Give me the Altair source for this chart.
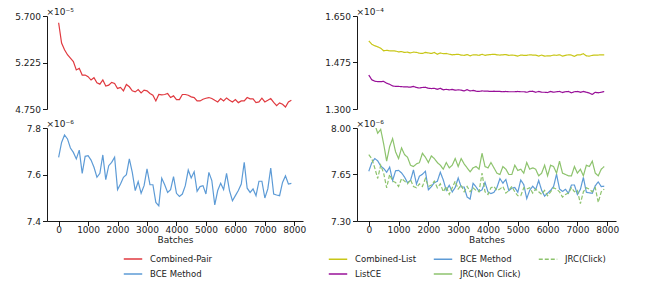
import altair as alt
import pandas as pd

batches = list(range(0, 8000, 100))

combined_pair = [
    5.631, 5.424, 5.356, 5.304, 5.270, 5.235, 5.149, 5.166, 5.097, 5.097,
    5.080, 5.046, 5.070, 5.018, 5.004, 5.046, 4.984, 4.994, 5.022, 5.011,
    4.960, 4.970, 4.936, 5.001, 4.977, 4.936, 4.925, 4.949, 4.915, 4.943,
    4.936, 4.908, 4.891, 4.832, 4.898, 4.894, 4.898, 4.908, 4.867, 4.884,
    4.846, 4.846, 4.898, 4.898, 4.891, 4.874, 4.867, 4.832, 4.832, 4.850,
    4.860, 4.867, 4.857, 4.839, 4.822, 4.857, 4.832, 4.863, 4.839, 4.822,
    4.846, 4.815, 4.832, 4.832, 4.867, 4.853, 4.853, 4.815, 4.822, 4.860,
    4.822, 4.839, 4.857, 4.818, 4.784, 4.812, 4.798, 4.770, 4.822, 4.839,
]

bce_method = [
    7.674, 7.738, 7.770, 7.753, 7.714, 7.695, 7.667, 7.705, 7.605, 7.678,
    7.681, 7.662, 7.631, 7.588, 7.605, 7.684, 7.578, 7.638, 7.652, 7.674,
    7.535, 7.559, 7.588, 7.599, 7.667, 7.609, 7.531, 7.569, 7.519, 7.552,
    7.624, 7.556, 7.556, 7.480, 7.465, 7.584, 7.556, 7.523, 7.535, 7.591,
    7.519, 7.506, 7.516, 7.552, 7.619, 7.585, 7.612, 7.528, 7.548, 7.552,
    7.516, 7.609, 7.574, 7.469, 7.531, 7.562, 7.535, 7.605, 7.531, 7.487,
    7.509, 7.531, 7.559, 7.652, 7.541, 7.523, 7.538, 7.509, 7.571, 7.571,
    7.499, 7.538, 7.628, 7.516, 7.512, 7.509, 7.566, 7.594, 7.559, 7.562,
]

combined_list = [
    1.556, 1.544, 1.538, 1.534, 1.529, 1.519, 1.521, 1.519, 1.519, 1.518,
    1.515, 1.516, 1.513, 1.514, 1.511, 1.514, 1.513, 1.510, 1.509, 1.513,
    1.511, 1.509, 1.513, 1.506, 1.511, 1.508, 1.509, 1.506, 1.504, 1.505,
    1.506, 1.503, 1.502, 1.505, 1.500, 1.504, 1.504, 1.502, 1.506, 1.502,
    1.504, 1.505, 1.506, 1.504, 1.503, 1.504, 1.505, 1.502, 1.503, 1.502,
    1.499, 1.503, 1.502, 1.502, 1.504, 1.503, 1.503, 1.499, 1.503, 1.499,
    1.500, 1.500, 1.503, 1.502, 1.504, 1.499, 1.502, 1.504, 1.503, 1.498,
    1.504, 1.504, 1.508, 1.500, 1.499, 1.502, 1.503, 1.503, 1.504, 1.504,
]

list_ce = [
    1.428, 1.410, 1.405, 1.403, 1.403, 1.404, 1.397, 1.393, 1.387, 1.385,
    1.385, 1.384, 1.383, 1.383, 1.382, 1.385, 1.381, 1.379, 1.381, 1.382,
    1.378, 1.377, 1.378, 1.374, 1.378, 1.372, 1.374, 1.372, 1.374, 1.371,
    1.372, 1.371, 1.368, 1.373, 1.368, 1.370, 1.367, 1.366, 1.368, 1.367,
    1.367, 1.366, 1.367, 1.366, 1.366, 1.365, 1.366, 1.365, 1.365, 1.365,
    1.366, 1.365, 1.365, 1.363, 1.366, 1.367, 1.363, 1.366, 1.363, 1.363,
    1.362, 1.366, 1.363, 1.365, 1.366, 1.362, 1.365, 1.366, 1.361, 1.365,
    1.366, 1.363, 1.366, 1.363, 1.360, 1.355, 1.363, 1.361, 1.363, 1.366,
]

jrc_non_click = [
    8.12, 8.09, 8.03, 7.96, 7.99, 7.88, 7.75, 7.86, 7.92, 7.82,
    7.77, 7.85, 7.80, 7.78, 7.72, 7.71, 7.73, 7.74, 7.81, 7.78,
    7.74, 7.79, 7.77, 7.74, 7.72, 7.69, 7.74, 7.70, 7.72, 7.77,
    7.71, 7.77, 7.73, 7.70, 7.67, 7.70, 7.71, 7.69, 7.81, 7.71,
    7.70, 7.74, 7.70, 7.66, 7.65, 7.71, 7.69, 7.65, 7.65, 7.72,
    7.68, 7.69, 7.66, 7.74, 7.69, 7.70, 7.69, 7.64, 7.66, 7.72,
    7.64, 7.72, 7.71, 7.66, 7.75, 7.66, 7.65, 7.64, 7.64, 7.71,
    7.66, 7.69, 7.64, 7.72, 7.71, 7.75, 7.66, 7.64, 7.69, 7.71,
]

jrc_click = [
    7.80, 7.77, 7.70, 7.62, 7.72, 7.66, 7.55, 7.65, 7.60, 7.59,
    7.56, 7.62, 7.60, 7.58, 7.61, 7.56, 7.55, 7.58, 7.56, 7.62,
    7.56, 7.57, 7.60, 7.55, 7.58, 7.52, 7.56, 7.50, 7.55, 7.60,
    7.54, 7.57, 7.52, 7.56, 7.52, 7.55, 7.53, 7.52, 7.66, 7.52,
    7.50, 7.55, 7.56, 7.53, 7.54, 7.56, 7.51, 7.53, 7.56, 7.52,
    7.49, 7.49, 7.55, 7.54, 7.55, 7.51, 7.54, 7.52, 7.50, 7.53,
    7.49, 7.52, 7.55, 7.54, 7.52, 7.48, 7.50, 7.51, 7.55, 7.52,
    7.53, 7.43, 7.52, 7.55, 7.54, 7.52, 7.55, 7.44, 7.52, 7.54,
]

x_ticks = [0, 1000, 2000, 3000, 4000, 5000, 6000, 7000, 8000]

RED = "#e0393f"
BLUE = "#5d9bd6"
YELLOW = "#c8c617"
PURPLE = "#980f98"
GREEN = "#8dc36d"

FONT = "DejaVu Sans"


def frame(series):
    rows = []
    for name, vals in series:
        for b, v in zip(batches, vals):
            rows.append({"batch": b, "value": v, "series": name})
    return pd.DataFrame(rows)


XS = alt.Scale(domain=[-395, 8295], nice=False, zero=False)


def x_enc(show):
    if show:
        return alt.X("batch:Q", scale=XS,
                     axis=alt.Axis(values=x_ticks, title="Batches", format="d",
                                   labelFlush=False, labelOverlap=False,
                                   labelPadding=0, titlePadding=1))
    return alt.X("batch:Q", scale=XS, axis=None)


def y_enc(domain, ticks, fmt, exp):
    return alt.Y("value:Q",
                 scale=alt.Scale(domain=domain, nice=False, zero=False),
                 axis=alt.Axis(values=ticks, format=fmt, title="×10" + exp,
                               titleAngle=0, titleAlign="left",
                               titleBaseline="alphabetic", titleX=-1, titleY=-1.5,
                               titleFontSize=9))


LEG = dict(title=None, orient="none", symbolType="stroke", symbolSize=340,
           symbolStrokeWidth=1.5, labelFont=FONT, labelFontSize=8.5, labelOffset=7,
           rowPadding=-1, padding=0, labelColor="#222")

# ---------- left column ----------
left_dom = ["Combined-Pair", "BCE Method"]
left_rng = [RED, BLUE]
left_legend = alt.Legend(legendX=76, legendY=233, **LEG)


def lcolor():
    return alt.Color("series:N", scale=alt.Scale(domain=left_dom, range=left_rng),
                     legend=left_legend)


lt = alt.Chart(frame([("Combined-Pair", combined_pair)])).mark_line(
    strokeWidth=1.2, clip=True).encode(
    x=x_enc(False),
    y=y_enc([4.75, 5.70], [4.75, 5.225, 5.70], ".3f", "⁻⁵"),
    color=lcolor(),
).properties(width=256, height=93)

lb = alt.Chart(frame([("BCE Method", bce_method)])).mark_line(
    strokeWidth=1.2, clip=True).encode(
    x=x_enc(True),
    y=y_enc([7.4, 7.8], [7.4, 7.6, 7.8], ".1f", "⁻⁶"),
    color=lcolor(),
).properties(width=256, height=93)

left_col = alt.vconcat(lt, lb, spacing=19, bounds="flush")

# ---------- right column ----------
right_dom = ["Combined-List", "ListCE", "BCE Method", "JRC(Non Click)", "JRC(Click)"]
right_rng = [YELLOW, PURPLE, BLUE, GREEN, GREEN]
right_dash = [[1, 0], [1, 0], [1, 0], [1, 0], [4, 2]]
right_legend = alt.Legend(legendX=-29, legendY=233, columns=3, gridAlign="all",
                          columnPadding=13, **LEG)


def renc():
    return dict(
        color=alt.Color("series:N", scale=alt.Scale(domain=right_dom, range=right_rng),
                        legend=right_legend, sort=right_dom),
        strokeDash=alt.StrokeDash("series:N",
                                  scale=alt.Scale(domain=right_dom, range=right_dash),
                                  legend=right_legend, sort=right_dom),
    )


rt = alt.Chart(frame([("Combined-List", combined_list), ("ListCE", list_ce)])).mark_line(
    strokeWidth=1.2, clip=True).encode(
    x=x_enc(False),
    y=y_enc([1.30, 1.65], [1.30, 1.475, 1.65], ".3f", "⁻⁴"),
    **renc(),
).properties(width=259, height=93)

rb = alt.Chart(frame([("BCE Method", bce_method),
                      ("JRC(Non Click)", jrc_non_click),
                      ("JRC(Click)", jrc_click)])).mark_line(
    strokeWidth=1.2, clip=True).encode(
    x=x_enc(True),
    y=y_enc([7.30, 8.00], [7.30, 7.65, 8.00], ".2f", "⁻⁶"),
    **renc(),
).properties(width=259, height=93)

right_col = alt.vconcat(rt, rb, spacing=19, bounds="flush")

chart = alt.hconcat(left_col, right_col, spacing=18).resolve_scale(
    color="independent", strokeDash="independent"
).properties(
    padding={"left": 6, "top": -1, "right": 5, "bottom": 0}
).configure_view(stroke=None).configure_axis(
    grid=False, domainColor="black", tickColor="black", labelColor="#222",
    titleColor="#222", labelFont=FONT, titleFont=FONT, labelFontSize=9,
    titleFontSize=9, titleFontWeight="normal", tickSize=4.5, domainWidth=0.9,
    tickWidth=0.9, labelPadding=2,
)

chart.save("out.html", embed_options={"renderer": "svg", "actions": False})
